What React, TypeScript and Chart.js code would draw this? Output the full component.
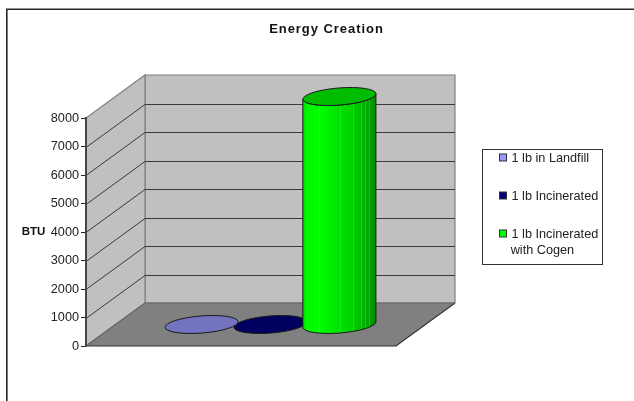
import React, { useEffect, useRef } from "react";
import { Chart, registerables } from "chart.js";

Chart.register(...registerables);

const categories = ["Energy"];
const seriesLabels = ["1 lb in Landfill", "1 lb Incinerated", "1 lb Incinerated with Cogen"];
const legendLines = [["1 lb in Landfill"], ["1 lb Incinerated"], ["1 lb Incinerated", "with Cogen"]];
const landfillValues = [0];
const incineratedValues = [0];
const cogenValues = [8000];
const seriesColors = ["#9999FF", "#000080", "#00FF00"];
const topColors = ["#7373BF", "#000060", "#00BC00"];
const chartTitle = "Energy Creation";
const axisTitle = "BTU";
const FONT = '"Liberation Sans", Arial, sans-serif';

const DX = 59;
const DY = -43;
const drawOrder = [1, 0, 2];

const scene = {
  id: "scene",
  afterLayout(chart: any) {
    const tb = chart.titleBlock;
    if (tb) {
      tb.left = 19;
      tb.right = chart.width;
      tb.width = chart.width - 19;
    }
  },
  beforeDraw(chart: any) {
    const { ctx } = chart;
    const y = chart.scales.y;
    const a = chart.chartArea;
    const poly = (pts: number[][], fill: string | null, stroke?: string, w = 1) => {
      ctx.beginPath();
      pts.forEach((p, i) => (i ? ctx.lineTo(p[0], p[1]) : ctx.moveTo(p[0], p[1])));
      ctx.closePath();
      if (fill) {
        ctx.fillStyle = fill;
        ctx.fill();
      }
      if (stroke) {
        ctx.strokeStyle = stroke;
        ctx.lineWidth = w;
        ctx.stroke();
      }
    };
    ctx.save();
    ctx.fillStyle = "#fff";
    ctx.fillRect(0, 0, chart.width, chart.height);
    // outer frame
    ctx.strokeStyle = "#262626";
    ctx.lineWidth = 1.6;
    ctx.beginPath();
    ctx.moveTo(6.8, chart.height);
    ctx.lineTo(6.8, 9.2);
    ctx.lineTo(chart.width, 9.2);
    ctx.stroke();
    // walls
    const L = a.left, R = a.right, T = a.top, B = a.bottom;
    poly([[L + DX, T + DY], [R + DX, T + DY], [R + DX, B + DY], [L + DX, B + DY]], "#C0C0C0", "#808080", 1.2);
    poly([[L, B], [L + DX, B + DY], [L + DX, T + DY], [L, T]], "#C0C0C0", "#808080", 1.2);
    // gridlines from the scale's ticks
    ctx.strokeStyle = "#3a3a3a";
    ctx.lineWidth = 1;
    y.ticks.forEach((t: any) => {
      if (t.value === y.min || t.value === y.max) return;
      const py = Math.round(y.getPixelForValue(t.value)) + 0.5;
      ctx.beginPath();
      ctx.moveTo(L, py);
      ctx.lineTo(L + DX, py + DY);
      ctx.lineTo(R + DX, py + DY);
      ctx.stroke();
    });
    // floor
    poly([[L, B], [R, B], [R + DX, B + DY], [L + DX, B + DY]], "#808080");
    ctx.strokeStyle = "#333";
    ctx.lineWidth = 1.2;
    ctx.beginPath();
    ctx.moveTo(L, B);
    ctx.lineTo(R, B);
    ctx.lineTo(R + DX, B + DY);
    ctx.stroke();
    ctx.strokeStyle = "#666";
    ctx.beginPath();
    ctx.moveTo(L, B);
    ctx.lineTo(L + DX, B + DY);
    ctx.lineTo(R + DX, B + DY);
    ctx.stroke();
    ctx.restore();
    // title letter spacing
    const tb = chart.titleBlock;
    if (tb && !tb.__wrapped) {
      const orig = tb.draw.bind(tb);
      tb.draw = (...args: any[]) => {
        (ctx as any).letterSpacing = "0.95px";
        orig(...args);
        (ctx as any).letterSpacing = "0px";
      };
      tb.__wrapped = true;
    }
  },
  beforeDatasetDraw() {
    return false;
  },
  afterDatasetsDraw(chart: any) {
    const { ctx } = chart;
    drawOrder.forEach((ds) => {
      const bar = chart.getDatasetMeta(ds).data[0];
      const base = chart.scales.y.getPixelForValue(0);
      const cx = bar.x + DX / 2;
      const topY = bar.y + DY / 2;
      const botY = base + DY / 2;
      const rx = bar.width * 0.532;
      const ry = bar.width * 0.124;
      const rot = (-4.5 * Math.PI) / 180;
      const t0 = Math.atan2(-ry * Math.sin(rot), rx * Math.cos(rot));
      const ex = rx * Math.cos(t0) * Math.cos(rot) - ry * Math.sin(t0) * Math.sin(rot);
      const ey = rx * Math.cos(t0) * Math.sin(rot) + ry * Math.sin(t0) * Math.cos(rot);
      ctx.save();
      ctx.lineWidth = 1;
      ctx.strokeStyle = "#1a1a1a";
      if (botY - topY > 1) {
        const path = new Path2D();
        path.ellipse(cx, topY, rx, ry, rot, t0, t0 + Math.PI);
        path.lineTo(cx - ex, botY - ey);
        path.ellipse(cx, botY, rx, ry, rot, t0 + Math.PI, t0, true);
        path.closePath();
        const g = ctx.createLinearGradient(cx - ex, 0, cx + ex, 0);
        g.addColorStop(0, "#00D800");
        g.addColorStop(0.05, "#00F800");
        g.addColorStop(0.22, "#00FF00");
        g.addColorStop(0.45, "#00E600");
        g.addColorStop(0.65, "#00D400");
        g.addColorStop(0.82, "#00B800");
        g.addColorStop(1, "#008C00");
        ctx.fillStyle = g;
        ctx.fill(path);
        ctx.save();
        ctx.clip(path);
        ctx.strokeStyle = "rgba(130,255,130,0.22)";
        [0.22, 0.505, 0.68, 0.79, 0.85, 0.9].forEach((f) => {
          const x = Math.round(cx - ex + 2 * ex * f) + 0.5;
          ctx.beginPath();
          ctx.moveTo(x, topY - 20);
          ctx.lineTo(x, botY + 20);
          ctx.stroke();
        });
        ctx.restore();
        ctx.stroke(path);
      }
      ctx.beginPath();
      ctx.ellipse(cx, topY, rx, ry, rot, 0, Math.PI * 2);
      ctx.fillStyle = topColors[ds];
      ctx.fill();
      ctx.stroke();
      ctx.restore();
    });
  },
  afterDraw(chart: any) {
    const { ctx } = chart;
    const y = chart.scales.y;
    ctx.save();
    // axis title
    ctx.fillStyle = "#111";
    ctx.font = `bold 11.5px ${FONT}`;
    ctx.textAlign = "left";
    ctx.textBaseline = "middle";
    ctx.fillText(axisTitle, 21.7, y.getPixelForValue(4000));
    // legend
    ctx.strokeStyle = "#333";
    ctx.lineWidth = 1;
    ctx.strokeRect(482.5, 149.5, 120, 115);
    ctx.font = `12.7px ${FONT}`;
    const rows = [158, 196, 234];
    legendLines.forEach((lines, i) => {
      ctx.fillStyle = seriesColors[i];
      ctx.fillRect(499.5, rows[i] - 4, 7, 7);
      ctx.strokeStyle = "#333";
      ctx.strokeRect(499.5, rows[i] - 4, 7, 7);
      ctx.fillStyle = "#222";
      lines.forEach((line, j) => {
        ctx.fillText(line, j ? 510.7 : 511.5, rows[i] + j * 16.7);
      });
    });
    ctx.restore();
  },
};

export default function App() {
  const ref = useRef<HTMLCanvasElement>(null);
  useEffect(() => {
    document.body.style.margin = "0";
    const chart = new Chart(ref.current as any, {
      type: "bar",
      data: {
        labels: categories,
        datasets: [
          { label: seriesLabels[0], data: landfillValues, backgroundColor: seriesColors[0] },
          { label: seriesLabels[1], data: incineratedValues, backgroundColor: seriesColors[1] },
          { label: seriesLabels[2], data: cogenValues, backgroundColor: seriesColors[2] },
        ],
      },
      options: {
        responsive: false,
        animation: false,
        layout: { padding: { left: 0, right: 238, top: 0, bottom: 55 } },
        datasets: { bar: { categoryPercentage: 2 / 3, barPercentage: 1 } },
        plugins: {
          legend: { display: false },
          tooltip: { enabled: false },
          title: {
            display: true,
            text: chartTitle,
            color: "#111",
            font: { family: FONT, size: 13, weight: "bold" },
            padding: { top: 22, bottom: 80.4 },
          },
        },
        scales: {
          x: { display: false },
          y: {
            min: 0,
            max: 8000,
            afterFit: (s: any) => {
              s.width = 86;
            },
            ticks: {
              stepSize: 1000,
              padding: 2,
              color: "#222",
              font: { family: FONT, size: 12.7 },
              callback: (v: any) => String(v),
            },
            grid: { drawOnChartArea: false, drawTicks: true, tickLength: 5, color: "#222" },
            border: { display: true, color: "#444", width: 2 },
          },
        },
      } as any,
      plugins: [scene as any],
    });
    return () => chart.destroy();
  }, []);
  return (
    <div style={{ position: "absolute", left: 0, top: 0, width: 634, height: 401, background: "#fff", overflow: "hidden" }}>
      <canvas ref={ref} width={634} height={401} style={{ display: "block" }} />
    </div>
  );
}
